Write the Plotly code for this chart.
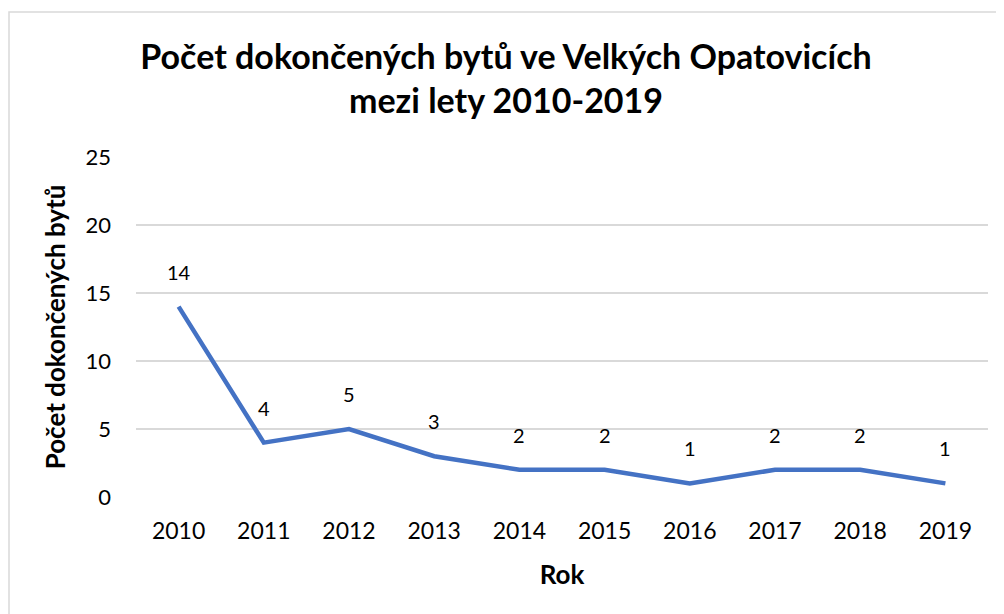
import plotly.graph_objects as go

years = ["2010", "2011", "2012", "2013", "2014", "2015", "2016", "2017", "2018", "2019"]
values = [14, 4, 5, 3, 2, 2, 1, 2, 2, 1]
y_ticks = [0, 5, 10, 15, 20, 25]

FONT = "Lato, 'Open Sans', sans-serif"
# page has an 8px body margin, so the figure is 8px smaller and shifted
W, H = 996, 606
ML, MR, MT, MB = 128, 16, 149, 117
pw, ph = W - ML - MR, H - MT - MB

fig = go.Figure()
fig.add_trace(go.Scatter(
    x=years, y=values, mode="lines",
    line=dict(color="#4472C4", width=4.5),
    hoverinfo="x+y", showlegend=False,
))

# category axis: annotation x given as category index
annotations = [
    dict(x=i, y=v, xref="x", yref="y", text=str(v), showarrow=False, yshift=35,
         font=dict(family=FONT, size=20, color="#000000"))
    for i, v in enumerate(values)
]

fig.update_layout(
    width=W, height=H,
    margin=dict(l=ML, r=MR, t=MT, b=MB, autoexpand=False),
    paper_bgcolor="white", plot_bgcolor="white",
    font=dict(family=FONT, color="#000000"),
    title=dict(
        text="<b>Počet dokončených bytů ve Velkých Opatovicích<br>mezi lety 2010-2019</b>",
        x=0.5, xanchor="center", y=1 - 61 / H, yanchor="middle",
        font=dict(family=FONT, size=34, color="#000000"),
    ),
    xaxis=dict(
        type="category", range=[-0.5, 9.5], showgrid=False, showline=False, zeroline=False,
        tickfont=dict(size=23), ticklabelstandoff=18, automargin=False,
        title=dict(text="<b>Rok</b>", font=dict(size=26), standoff=22),
    ),
    yaxis=dict(
        range=[0, 25], tickvals=y_ticks, showgrid=True,
        gridcolor="#D9D9D9", gridwidth=1.5, zeroline=False, showline=False,
        tickfont=dict(size=22), ticklabelstandoff=24, automargin=False,
        title=dict(text="<b>Počet dokončených bytů</b>", font=dict(size=26), standoff=12),
    ),
    annotations=annotations,
    shapes=[dict(
        type="rect", xref="paper", yref="paper",
        x0=(1 - ML) / pw, x1=(1004 - ML) / pw,
        y0=-(612 - (H - MB)) / ph, y1=(H - MB - 4) / ph,
        line=dict(color="#D9D9D9", width=1.5), fillcolor="rgba(0,0,0,0)",
        layer="below",
    )],
)

fig.write_html("out.html")
